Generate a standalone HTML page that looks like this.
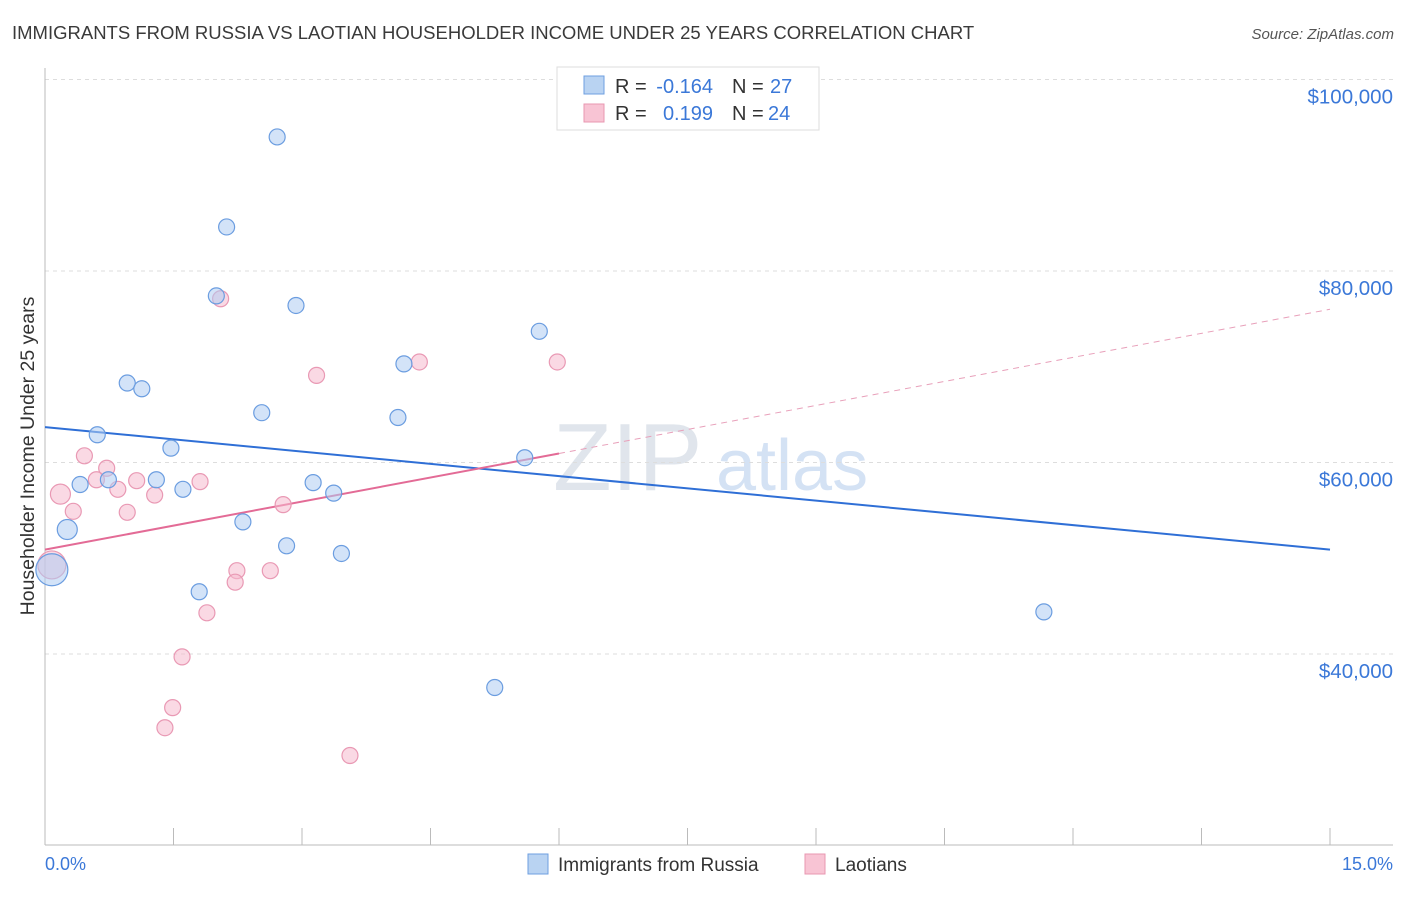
<!DOCTYPE html>
<html><head><meta charset="utf-8"><style>
body{margin:0;background:#fff;font-family:"Liberation Sans",sans-serif;}
svg text{font-family:"Liberation Sans",sans-serif;}
</style></head><body>
<svg id="chart" width="1406" height="892">
<text x="12" y="39" font-size="18.5" fill="#3a3a3a">IMMIGRANTS FROM RUSSIA VS LAOTIAN HOUSEHOLDER INCOME UNDER 25 YEARS CORRELATION CHART</text>
<text x="1394" y="39" font-size="15" fill="#555" text-anchor="end" font-style="italic">Source: ZipAtlas.com</text>
<text x="553" y="490" font-size="96" fill="#ccd5e0" opacity="0.6" font-family="Liberation Serif">ZIP</text>
<text x="716" y="490" font-size="72" fill="#b9cfee" opacity="0.6">atlas</text>
<g id="grid"></g>
<g id="axes"></g>
<g id="trends"></g>
<g id="points"></g>
<text transform="translate(34,456) rotate(-90)" font-size="19.5" fill="#333" text-anchor="middle">Householder Income Under 25 years</text>
<text x="45" y="870" font-size="18" fill="#3b78d8">0.0%</text>
<text x="1393" y="870" font-size="18" fill="#3b78d8" text-anchor="end">15.0%</text>
<g>
<rect x="557" y="67" width="262" height="63" fill="#fff" stroke="#ddd"/>
<rect x="584" y="76" width="20" height="18" fill="#b9d3f2" stroke="#6e9fe0"/>
<rect x="584" y="104" width="20" height="18" fill="#f8c4d4" stroke="#e897b1"/>
<text x="615" y="93" font-size="20" fill="#333">R =</text>
<text x="713" y="93" font-size="20" fill="#3b78d8" text-anchor="end">-0.164</text>
<text x="732" y="93" font-size="20" fill="#333">N =</text>
<text x="770" y="93" font-size="20" fill="#3b78d8">27</text>
<text x="615" y="120" font-size="20" fill="#333">R =</text>
<text x="713" y="120" font-size="20" fill="#3b78d8" text-anchor="end">0.199</text>
<text x="732" y="120" font-size="20" fill="#333">N =</text>
<text x="768" y="120" font-size="20" fill="#3b78d8">24</text>
</g>
<g>
<rect x="528" y="854" width="20" height="20" fill="#b9d3f2" stroke="#6e9fe0"/>
<text x="558" y="871" font-size="19" fill="#333">Immigrants from Russia</text>
<rect x="805" y="854" width="20" height="20" fill="#f8c4d4" stroke="#e897b1"/>
<text x="835" y="871" font-size="19" fill="#333">Laotians</text>
</g>
</svg>
<script>
const yTicks=[40000,60000,80000,100000];
const yTickLabels=["$40,000","$60,000","$80,000","$100,000"];
const xTicks=[0,1.5,3,4.5,6,7.5,9,10.5,12,13.5,15];
const russiaX=[2.71,2.12,2.00,2.93,5.77,0.96,1.13,4.19,2.53,4.12,0.61,1.47,5.60,0.41,0.74,1.30,1.61,3.13,3.37,0.26,2.31,2.82,3.46,1.80,0.08,11.66,5.25];
const russiaY=[94000,84600,77400,76400,73700,68300,67700,70300,65200,64700,62900,61500,60500,57700,58200,58200,57200,57900,56800,53000,53800,51300,50500,46500,48800,44400,36500];
const russiaR=[8,8,8,8,8,8,8,8,8,8,8,8,8,8,8,8,8,8,8,10,8,8,8,8,16,8,8];
const laoX=[2.05,3.17,4.37,5.98,0.46,0.72,0.60,1.07,0.18,0.33,0.85,1.28,1.81,0.96,2.78,2.24,2.63,2.22,1.89,1.60,1.49,1.40,3.56,0.08];
const laoY=[77100,69100,70500,70500,60700,59400,58200,58100,56700,54900,57200,56600,58000,54800,55600,48700,48700,47500,44300,39700,34400,32300,29400,49300];
const laoR=[8,8,8,8,8,8,8,8,10,8,8,8,8,8,8,8,8,8,8,8,8,8,8,14];
const russiaTrend=[63700,50900];
const laoTrend=[50900,76000];
const laoSolidEnd=6;
const NS="http://www.w3.org/2000/svg";
const X=v=>45+v*(1285/15);
const Y=v=>654-(v-40000)*(191.5/20000);
function mk(tag,attrs,parent){const e=document.createElementNS(NS,tag);for(const k in attrs)e.setAttribute(k,attrs[k]);document.getElementById(parent).appendChild(e);return e;}
yTicks.forEach((t,i)=>{
 const g=mk('line',{x1:45,x2:1393,y1:Y(t),y2:Y(t),stroke:'#ddd','stroke-dasharray':'4,4'},'grid');
 
 
 const l=mk('text',{x:1393,y:Y(t)+24,'font-size':20.5,fill:'#3b78d8','text-anchor':'end'},'grid');
 l.textContent=yTickLabels[i];
 
 
});
let a=mk('line',{x1:45,x2:45,y1:68,y2:845,stroke:'#bbb'},'axes');


a=mk('line',{x1:45,x2:1393,y1:845,y2:845,stroke:'#bbb'},'axes');


xTicks.forEach(t=>{
 const e=mk('line',{x1:X(t),x2:X(t),y1:828,y2:845,stroke:'#bbb'},'axes');
 
 
});
let t=mk('line',{x1:X(0),y1:Y(russiaTrend[0]),x2:X(15),y2:Y(russiaTrend[1]),stroke:'#2f6fd6','stroke-width':2},'trends');


const ly=v=>laoTrend[0]+(laoTrend[1]-laoTrend[0])*v/15;
t=mk('line',{x1:X(0),y1:Y(ly(0)),x2:X(laoSolidEnd),y2:Y(ly(laoSolidEnd)),stroke:'#e36b96','stroke-width':2},'trends');


t=mk('line',{x1:X(laoSolidEnd),y1:Y(ly(laoSolidEnd)),x2:X(15),y2:Y(ly(15)),stroke:'#e8a0ba','stroke-width':1,'stroke-dasharray':'6,5'},'trends');


laoX.forEach((x,i)=>{
 const c=mk('circle',{cx:X(x),cy:Y(laoY[i]),r:laoR[i],fill:'rgba(246,185,205,0.55)',stroke:'#e999b4','stroke-width':1.2},'points');
 
 
});
russiaX.forEach((x,i)=>{
 const c=mk('circle',{cx:X(x),cy:Y(russiaY[i]),r:russiaR[i],fill:'rgba(175,204,242,0.55)',stroke:'#6b9de0','stroke-width':1.2},'points');
 
 
});
</script>
</body></html>
